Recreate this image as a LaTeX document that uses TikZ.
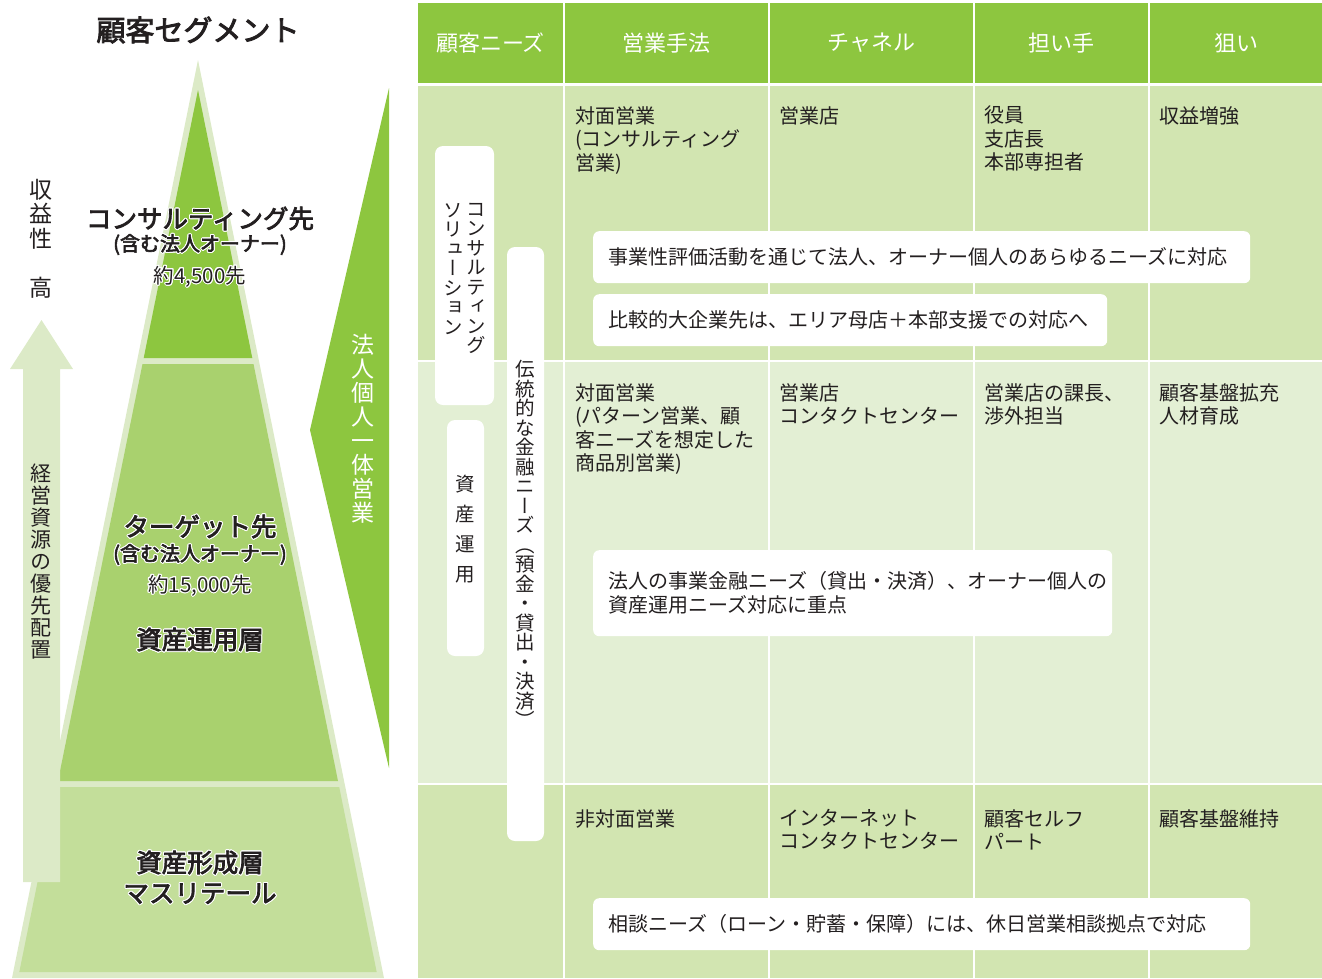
\documentclass[tikz,border=0pt]{standalone}
\usepackage{fontspec}
\setmainfont{Noto Sans CJK JP}
\newfontfamily\tatefont[RawFeature=+vert]{Noto Sans CJK JP}
\newfontfamily\medfont[FakeBold=3]{Noto Sans CJK JP}
\usepackage[copies]{contour}
\contourlength{1pt}
\usetikzlibrary{positioning}

\definecolor{leaf}{HTML}{8DC63F}
\definecolor{leafmid}{HTML}{A9D16E}
\definecolor{leaflow}{HTML}{C3DE9A}
\definecolor{leafpale}{HTML}{DCEAC7}
\definecolor{rowa}{HTML}{D2E5B1}
\definecolor{rowb}{HTML}{E3EFD4}
\definecolor{ink}{HTML}{231F20}

% stack the characters of a word, one per line
\ExplSyntaxOn
\NewDocumentCommand\tate{m}
  {
    \seq_clear:N \l_tmpa_seq
    \tl_map_inline:nn {#1} { \seq_put_right:Nn \l_tmpa_seq {##1} }
    \seq_use:Nn \l_tmpa_seq { \\ }
  }
\ExplSyntaxOff

\begin{document}
\begin{tikzpicture}[
  x=1pt,y=-1pt,
  seglbl/.style={inner sep=0pt,text=ink,font=\medfont\fontsize{25.5}{28}\selectfont},
  subl/.style={inner sep=0pt,text=ink,font=\medfont\fontsize{20}{22}\selectfont},
  cntl/.style={inner sep=0pt,text=ink,font=\fontsize{20.5}{22}\selectfont},
  hd/.style={fill=leaf,text=white,minimum height=80pt,inner sep=0pt,font=\fontsize{22}{24}\selectfont},
  cell/.style={anchor=north west,align=left,inner sep=0pt,text=ink,font=\fontsize{20}{23.5}\selectfont},
  note/.style={fill=white,rounded corners=6pt,anchor=north west,align=left,inner xsep=15pt,inner ysep=0pt,text=ink,font=\fontsize{20}{24}\selectfont},
  vbox/.style={fill=white,rounded corners=8pt,inner sep=0pt},
  vtxt/.style={anchor=north,align=center,inner sep=0pt,text=ink},
]
  \useasboundingbox (0,0) rectangle (1322,978);

  % ---------- left: segment pyramid ----------
  \node[seglbl,font=\medfont\fontsize{29}{32}\selectfont] (seg) at (198,30) {顧客セグメント};

  \fill[leafpale] (198,60) -- (384,978) -- (12,978) -- cycle;
  \fill[leaf] (198,90) -- (252.3,358) -- (143.7,358) -- cycle;
  \fill[leafmid] (142.5,364) -- (253.5,364) -- (338,781) -- (58,781) -- cycle;
  \fill[leaflow] (56.8,787) -- (339.2,787) -- (376.7,972) -- (19.3,972) -- cycle;

  % priority arrow
  \fill[leafpale] (23,882) -- (23,369) -- (10,369) -- (41.5,320)
    -- (73,369) -- (60,369) -- (60,882) -- cycle;
  \node[vtxt,font=\tatefont\fontsize{23}{24.5}\selectfont] (prof) at (41,179) {\tate{収益性　高}};
  \node[vtxt,font=\tatefont\fontsize{21}{22}\selectfont] (prio) at (41,464) {\tate{経営資源の優先配置}};

  % one-body sales arrow
  \fill[leaf] (389,88) -- (310,430) -- (389,768) -- cycle;
  \node[vtxt,text=white,font=\tatefont\fontsize{23}{24}\selectfont] (ittai) at (363,334) {\tate{法人個人一体営業}};

  \node[seglbl] (kon) at (200,219) {\contour{white}{コンサルティング先}};
  \node[subl] (kon2) at (200,245) {\contour{white}{(含む法人オーナー)}};
  \node[cntl] (kon3) at (200,277) {\contour{white}{約4,500先}};

  \node[seglbl] (tgt) at (200,527) {\contour{white}{ターゲット先}};
  \node[subl] (tgt2) at (200,555) {\contour{white}{(含む法人オーナー)}};
  \node[cntl] (tgt3) at (200,586) {\contour{white}{約15,000先}};
  \node[seglbl] (unyo) at (200,640) {\contour{white}{資産運用層}};

  \node[seglbl] (keisei) at (200,863) {\contour{white}{資産形成層}};
  \node[seglbl] (mass) at (200,894) {\contour{white}{マスリテール}};

  % ---------- right: table ----------
  \node[hd,minimum width=145pt] (h1) at (490.5,43) {顧客ニーズ};
  \node[hd,minimum width=203pt] (h2) at (666.5,43) {営業手法};
  \node[hd,minimum width=203pt] (h3) at (871.5,43) {チャネル};
  \node[hd,minimum width=173pt] (h4) at (1061.5,43) {担い手};
  \node[hd,minimum width=172pt] (h5) at (1236,43) {狙い};

  \foreach \xa/\xb in {418/563,565/768,770/973,975/1148,1150/1322} {
    \fill[rowa] (\xa,86) rectangle (\xb,360);
    \fill[rowb] (\xa,362) rectangle (\xb,783);
    \fill[rowa] (\xa,785) rectangle (\xb,978);
  }

  % needs column
  \node[vbox,minimum width=59pt,minimum height=259pt] (cs) at (464.5,275.5) {};
  \node[vtxt,font=\tatefont\fontsize{19.5}{19.5}\selectfont] (cs1) at (476,203) {\tate{コンサルティング}};
  \node[vtxt,font=\tatefont\fontsize{19.5}{19.5}\selectfont] (cs2) at (453,203) {\tate{ソリューション}};
  \node[vbox,minimum width=37pt,minimum height=236pt] (au) at (465.5,538) {};
  \node[vtxt,font=\tatefont\fontsize{19.5}{30}\selectfont] (au1) at (465.5,475) {\tate{資産運用}};
  \node[vbox,minimum width=37pt,minimum height=594pt] (tf) at (525.5,544) {};
  \node[vtxt,font=\tatefont\fontsize{19.5}{19.5}\selectfont] (tf1) at (525.5,360) {\tate{伝統的な金融ニーズ（預金・貸出・決済）}};

  % row 1
  \node[cell] (r1a) at (575,106) {対面営業\\(コンサルティング\\営業)};
  \node[cell] (r1b) at (779,106) {営業店};
  \node[cell] (r1c) at (984,106) {役員\\支店長\\本部専担者};
  \node[cell] (r1d) at (1159,106) {収益増強};
  \node[note,text width=627pt,minimum height=52pt] (n1) at (593,231)
    {事業性評価活動を通じて法人、オーナー個人のあらゆるニーズに対応};
  \node[note,text width=484pt,minimum height=52pt] (n2) at (593,294)
    {比較的大企業先は、エリア母店＋本部支援での対応へ};

  % row 2
  \node[cell] (r2a) at (575,383) {対面営業\\(パターン営業、顧\\客ニーズを想定した\\商品別営業)};
  \node[cell] (r2b) at (779,383) {営業店\\コンタクトセンター};
  \node[cell] (r2c) at (984,383) {営業店の課長、\\渉外担当};
  \node[cell] (r2d) at (1159,383) {顧客基盤拡充\\人材育成};
  \node[note,text width=489pt,minimum height=86pt] (n3) at (593,550)
    {法人の事業金融ニーズ（貸出・決済）、オーナー個人の\\資産運用ニーズ対応に重点};

  % row 3
  \node[cell] (r3a) at (575,809) {非対面営業};
  \node[cell] (r3b) at (779,809) {インターネット\\コンタクトセンター};
  \node[cell] (r3c) at (984,809) {顧客セルフ\\パート};
  \node[cell] (r3d) at (1159,809) {顧客基盤維持};
  \node[note,text width=627pt,minimum height=52pt] (n4) at (593,898)
    {相談ニーズ（ローン・貯蓄・保障）には、休日営業相談拠点で対応};
\end{tikzpicture}
\end{document}
